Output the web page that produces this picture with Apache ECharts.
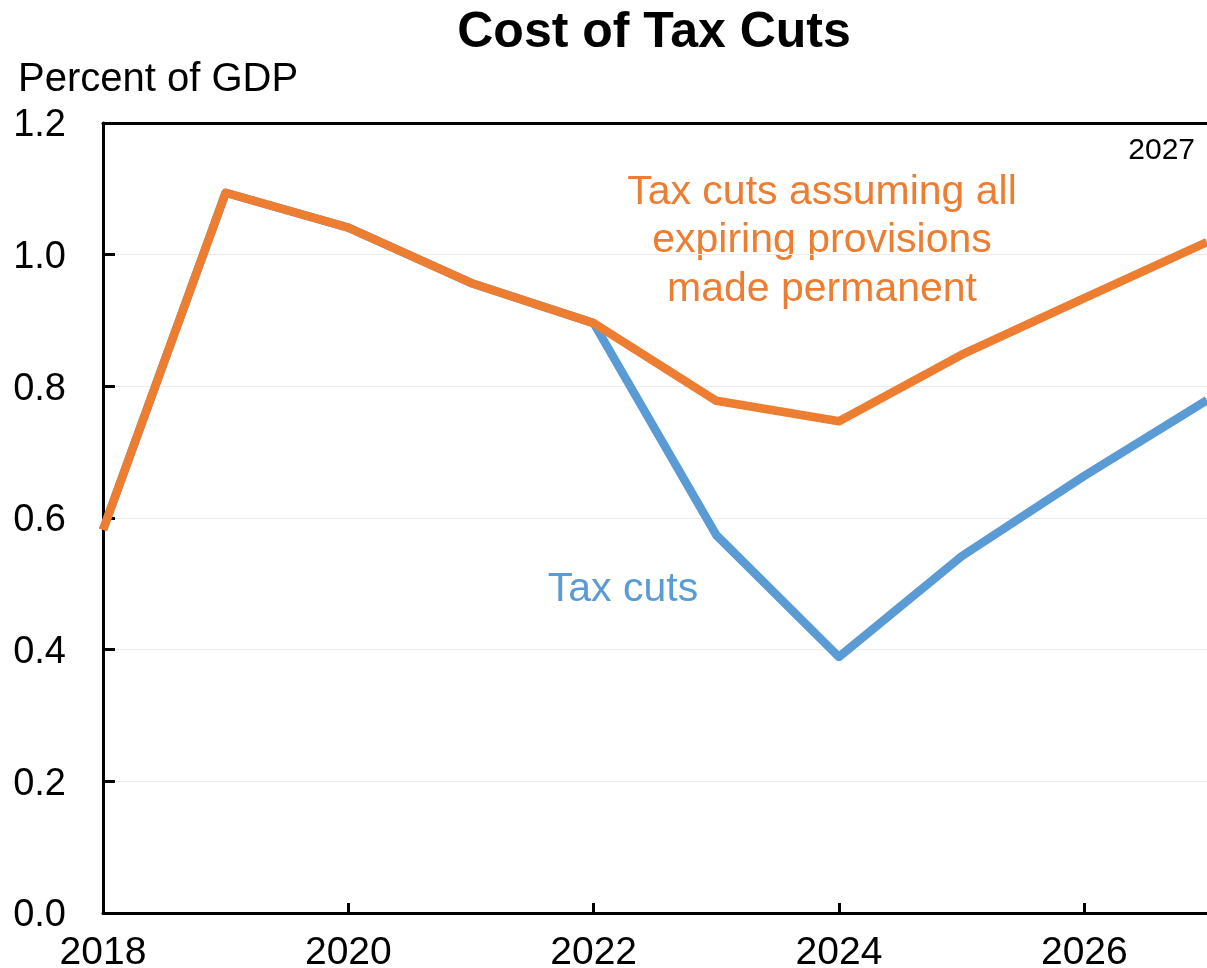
<!DOCTYPE html>
<html>
<head>
<meta charset="utf-8">
<script src="https://cdn.jsdelivr.net/npm/echarts@6/dist/echarts.min.js"></script>
<style>
  html, body { margin: 0; padding: 0; background: #fff; }
  #chart { width: 1207px; height: 968px; }
</style>
</head>
<body>
<div id="chart"></div>
<script>
// Fiscal years and cost of the tax cuts, percent of GDP
const years = [2018, 2019, 2020, 2021, 2022, 2023, 2024, 2025, 2026, 2027];
const taxCuts = [0.582, 1.094, 1.041, 0.957, 0.896, 0.574, 0.389, 0.542, 0.664, 0.779];
const taxCutsPermanent = [0.582, 1.094, 1.041, 0.957, 0.896, 0.778, 0.747, 0.848, 0.934, 1.019];
const yTicks = [0.0, 0.2, 0.4, 0.6, 0.8, 1.0, 1.2];

const FONT = 'Liberation Sans, Arial, sans-serif';
const BLUE = '#5B9BD5';
const ORANGE = '#ED7D31';

const chart = echarts.init(document.getElementById('chart'), null, { renderer: 'canvas' });

const pairs = (vals) => years.map((y, i) => [y, vals[i]]);

chart.setOption({
  animation: false,
  backgroundColor: '#fff',
  title: {
    text: 'Cost of Tax Cuts',
    left: 649, top: 3, textAlign: 'center',
    textStyle: { fontFamily: FONT, fontSize: 50, fontWeight: 'bold', color: '#000' }
  },
  grid: {
    left: 103, right: 0, top: 123, bottom: 55,
    containLabel: false, outerBoundsMode: 'none'
  },
  xAxis: [{
    type: 'value',
    min: years[0], max: years[years.length - 1], interval: 2,
    axisLine: { show: true, lineStyle: { color: '#000', width: 3 } },
    axisTick: { show: true, inside: true, length: 10, lineStyle: { color: '#000', width: 3 } },
    axisLabel: {
      fontFamily: FONT, fontSize: 39, color: '#000', margin: 21, showMaxLabel: false,
      formatter: (v) => String(v)
    },
    splitLine: { show: false }
  }, {
    type: 'value', position: 'top',
    min: years[0], max: years[years.length - 1],
    axisLine: { show: true, onZero: false, lineStyle: { color: '#000', width: 3 } },
    axisTick: { show: false }, axisLabel: { show: false }, splitLine: { show: false }
  }],
  yAxis: {
    type: 'value',
    min: yTicks[0], max: yTicks[yTicks.length - 1], interval: 0.2,
    axisLine: { show: true, lineStyle: { color: '#000', width: 3 } },
    axisTick: { show: true, inside: true, length: 12, lineStyle: { color: '#000', width: 3 } },
    axisLabel: {
      color: '#000', margin: 37,
      formatter: (v) => '{t|' + v.toFixed(1) + '}',
      rich: { t: { fontFamily: FONT, fontSize: 38, color: '#000', padding: [6, 0, 0, 0] } }
    },
    splitLine: { show: true, lineStyle: { color: '#ebebeb', width: 1 } }
  },
  series: [{
    name: 'Tax cuts', type: 'line', data: pairs(taxCuts),
    symbol: 'none', lineStyle: { color: BLUE, width: 8.5, join: 'round' }, z: 2
  }, {
    name: 'Tax cuts assuming all expiring provisions made permanent', type: 'line',
    data: pairs(taxCutsPermanent),
    symbol: 'none', lineStyle: { color: ORANGE, width: 8.5, join: 'round' }, z: 3
  }],
  graphic: [{
    type: 'text', left: 18, top: 60,
    style: { text: 'Percent of GDP', font: '40px ' + FONT, fill: '#000' }
  }, {
    type: 'text', right: 12, top: 136,
    style: { text: '2027', font: '30px ' + FONT, fill: '#000' }
  }, {
    type: 'text', x: 822, y: 168,
    style: {
      text: 'Tax cuts assuming all\nexpiring provisions\nmade permanent',
      font: '41px ' + FONT, fill: ORANGE, align: 'center', lineHeight: 48.5
    }
  }, {
    type: 'text', x: 623, y: 569,
    style: { text: 'Tax cuts', font: '41px ' + FONT, fill: BLUE, align: 'center' }
  }]
});
</script>
</body>
</html>
